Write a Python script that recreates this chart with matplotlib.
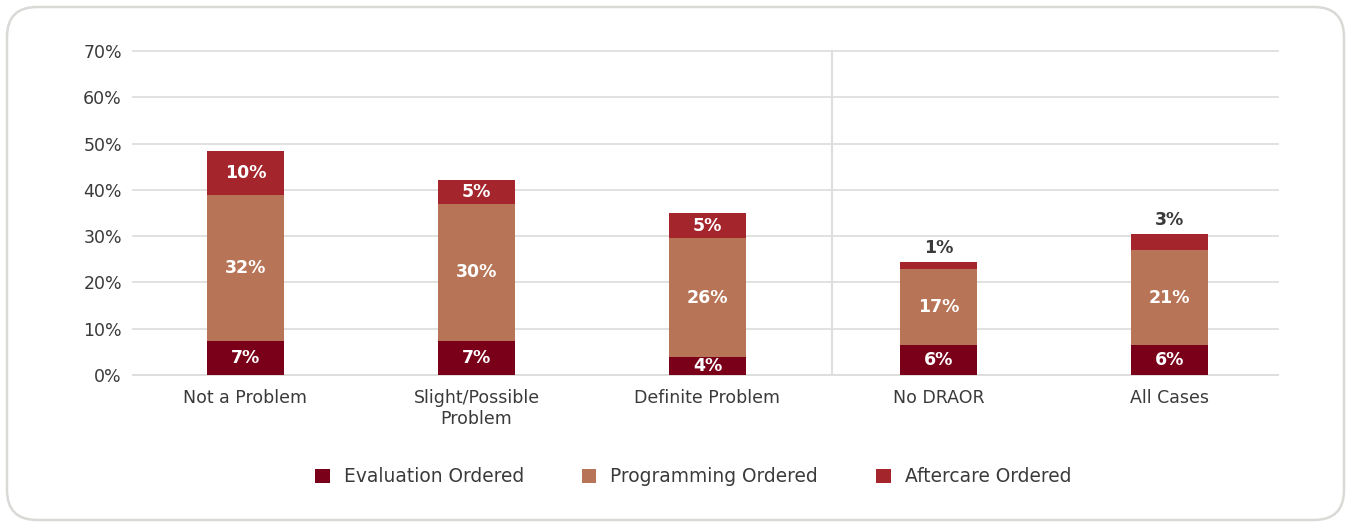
import matplotlib
matplotlib.use("Agg")
import matplotlib.pyplot as plt
from matplotlib.patches import FancyBboxPatch, Patch
from matplotlib.transforms import IdentityTransform

# Share of cases with each order type, by DRAOR problem rating
categories = ["Not a Problem", "Slight/Possible\nProblem", "Definite Problem", "No DRAOR", "All Cases"]
evaluation = [7.3, 7.4, 3.9, 6.4, 6.4]
programming = [31.6, 29.6, 25.6, 16.6, 20.6]
aftercare = [9.6, 5.2, 5.4, 1.4, 3.4]
series_names = ["Evaluation Ordered", "Programming Ordered", "Aftercare Ordered"]
yticks = [0, 10, 20, 30, 40, 50, 60, 70]

colors = ["#7A0019", "#B87456", "#A4262C"]
text_dark = "#3A3A3A"
grid_color = "#DEDEDC"

plt.rcParams["font.family"] = ["DejaVu Sans"]

fig = plt.figure(figsize=(13.51, 5.27), dpi=100)
ax = fig.add_axes([133 / 1351, 1 - 375 / 527, (1278 - 133) / 1351, (375 - 51) / 527])

x = list(range(len(categories)))
width = 0.33
series = [evaluation, programming, aftercare]
bottoms = [0.0] * len(categories)
for vals, color, name in zip(series, colors, series_names):
    ax.bar(x, vals, width, bottom=bottoms, color=color, label=name, zorder=3)
    for i, (b, v) in enumerate(zip(bottoms, vals)):
        label = f"{v:.0f}%"
        if v < 3.5:
            # thin segments get their label above the bar
            ax.annotate(label, (x[i], b + v), xytext=(0, 4), textcoords="offset points",
                        ha="center", va="bottom", fontsize=12.5, fontweight="bold",
                        color=text_dark, zorder=4)
        else:
            ax.text(x[i], b + v / 2, label, ha="center", va="center", fontsize=12.5,
                    fontweight="bold", color="white", zorder=4)
    bottoms = [b + v for b, v in zip(bottoms, vals)]

# Divider between the rated groups and the comparison groups
ax.axvline(2.54, color=grid_color, lw=1.5, zorder=1)

ax.set_xlim(-0.487, 4.47)
ax.set_ylim(0, 70)
ax.set_yticks(yticks)
ax.set_yticklabels([f"{t}%" for t in yticks])
ax.set_xticks(x)
ax.set_xticklabels(categories)
ax.tick_params(axis="both", length=0, labelsize=12.5, colors=text_dark)
ax.tick_params(axis="y", pad=8)
ax.tick_params(axis="x", pad=10)
ax.grid(axis="y", color=grid_color, lw=1.3, zorder=0)
for gl in ax.yaxis.get_gridlines():
    gl.set_clip_on(False)
ax.set_axisbelow(True)
for side in ["top", "right", "left"]:
    ax.spines[side].set_visible(False)
ax.spines["bottom"].set_color(grid_color)
ax.spines["bottom"].set_linewidth(1.3)

handles = [Patch(facecolor=c, edgecolor="none") for c in colors]
fig.legend(handles, series_names, loc="center", bbox_to_anchor=(693 / 1351, 1 - 477 / 527),
           ncol=3, frameon=False, fontsize=13.4, handlelength=0.8, handleheight=0.8,
           handletextpad=0.75, columnspacing=3.1, labelcolor=text_dark)

# Rounded card outline
card = FancyBboxPatch((7, 7), 1337, 513, boxstyle="round,pad=0,rounding_size=30",
                      transform=IdentityTransform(), facecolor="none",
                      edgecolor="#D9D9D6", lw=1.8)
fig.patches.append(card)

fig.savefig("out.png", dpi=100)
